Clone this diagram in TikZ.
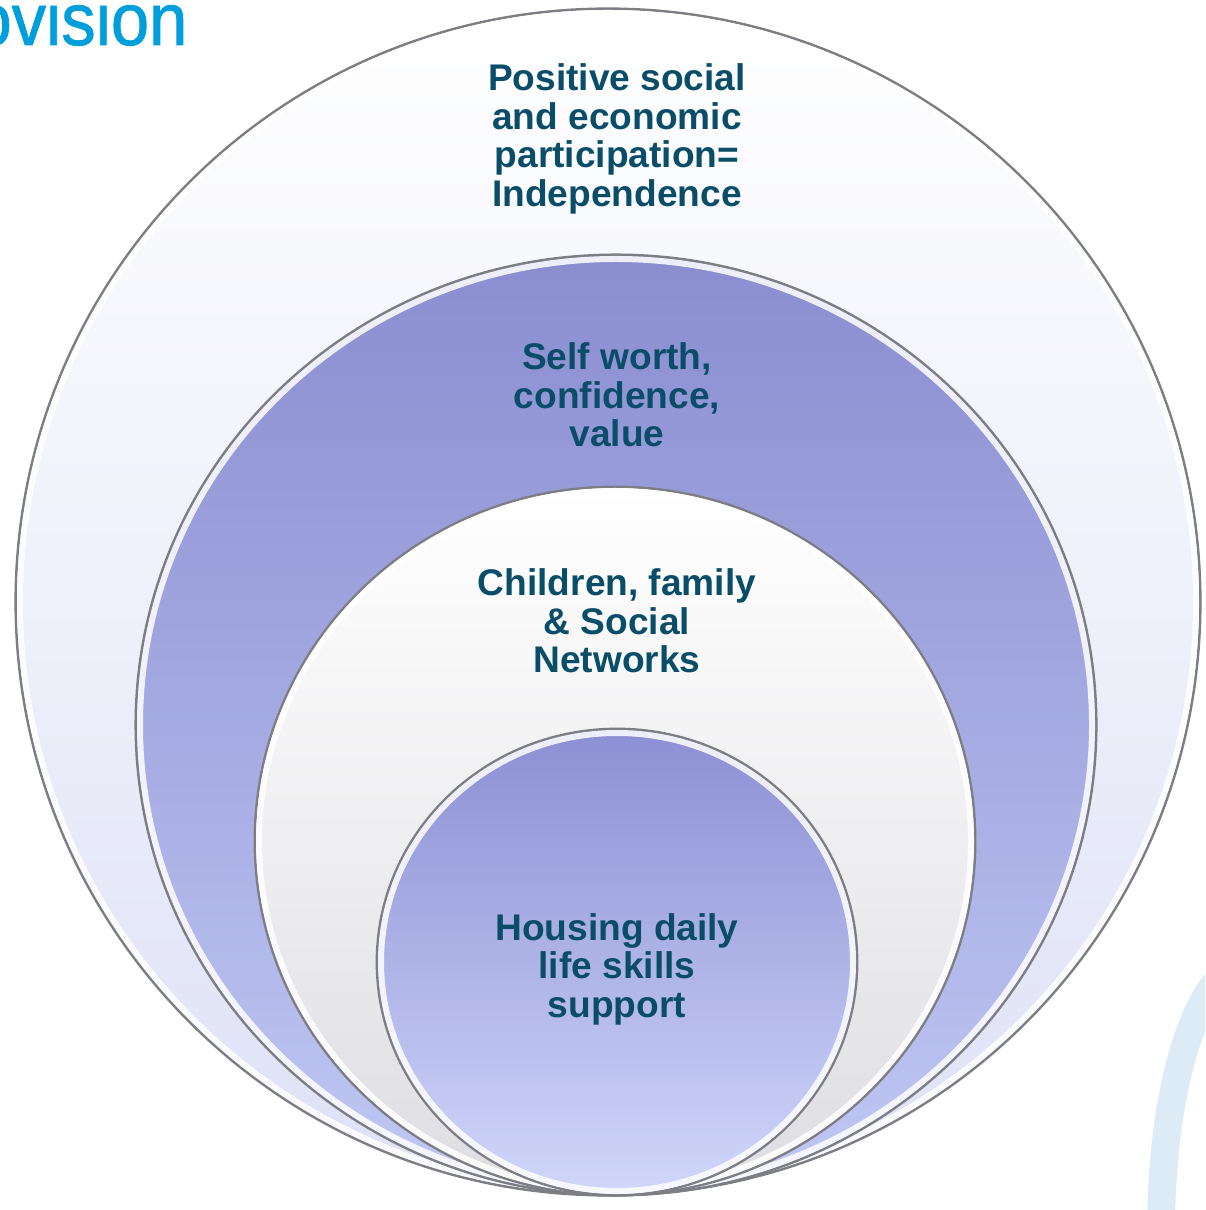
\documentclass[tikz,border=0pt]{standalone}
\usepackage{fontspec}
\setmainfont{Liberation Sans}
\newfontfamily\titlefont[FakeBold=1.2]{Liberation Sans}
\usetikzlibrary{shapes.geometric}
\definecolor{labelTeal}{RGB}{10,77,104}
\definecolor{titleBlue}{RGB}{0,158,219}
\definecolor{ringEdge}{RGB}{125,125,132}
\definecolor{arcBlue}{RGB}{221,235,247}
\tikzset{%
  % Specifications for style of rings:
           ring/.style = {ellipse, draw=ringEdge, line width=0.25mm,
                          inner sep=0pt, outer sep=0pt},
       paleRing/.style = {ring, top color=white, bottom color={rgb,255:red,222;green,225;blue,246}},
     purpleRing/.style = {ring, top color={rgb,255:red,138;green,141;blue,208},
                          bottom color={rgb,255:red,192;green,200;blue,244}},
      whiteRing/.style = {ring, top color=white, bottom color={rgb,255:red,222;green,222;blue,226}},
      coreRing/.style = {ring, top color={rgb,255:red,140;green,143;blue,212},
                          bottom color={rgb,255:red,208;green,215;blue,250}},
          glint/.style = {draw=white, line width=0.6mm, opacity=0.85},
  % Specifications for style of texts:
       ringText/.style = {align=center, text=labelTeal, inner sep=0pt,
                          font=\bfseries\fontsize{10.55pt}{10.95pt}\selectfont},
}

\begin{document}
\begin{tikzpicture}[x=0.01cm, y=-0.01cm]
  \clip (0,0) rectangle (1205,1210);
  \useasboundingbox (0,0) rectangle (1205,1210);

  \node (pageTitle) [anchor=base east, text=titleBlue, inner sep=0pt, xscale=0.93,
                     font=\titlefont\fontsize{21pt}{24pt}\selectfont] at (188,45) {ovision};

  % the pale blue arc in the corner
  \coordinate (arcMid) at (1248,1230);
  \draw[arcBlue, line width=0.28cm] (arcMid) ++(160:87 and 266) arc [start angle=160, end angle=275,
        x radius=87, y radius=266];

  % rings, from the outside in
  \node (outerRing) [paleRing, minimum width=11.84cm, minimum height=11.86cm] at (608,602) {};
  \draw[glint] (outerRing.center) ellipse [x radius=588, y radius=589];
  \node (selfRing)  [purpleRing, minimum width=9.6cm, minimum height=9.4cm] at (616,725) {};
  \draw[glint] (selfRing.center) ellipse [x radius=476, y radius=466];
  \node (familyRing) [whiteRing, minimum width=7.2cm, minimum height=7.08cm] at (615,841) {};
  \draw[glint] (familyRing.center) ellipse [x radius=356, y radius=350];
  \node (housingRing) [coreRing, minimum width=4.8cm, minimum height=4.66cm] at (617,962) {};
  \draw[glint] (housingRing.center) ellipse [x radius=236, y radius=229];

  % texts of the rings
  \node (outerText)   [ringText] at (617,139) {Positive social\\and economic\\participation=\\Independence};
  \node (selfText)    [ringText] at (617,395) {Self worth,\\confidence,\\value};
  \node (familyText)  [ringText] at (617,621) {Children, family\\\& Social\\Networks};
  \node (housingText) [ringText] at (617,969) {Housing daily\\life skills\\support};
\end{tikzpicture}
\end{document}
